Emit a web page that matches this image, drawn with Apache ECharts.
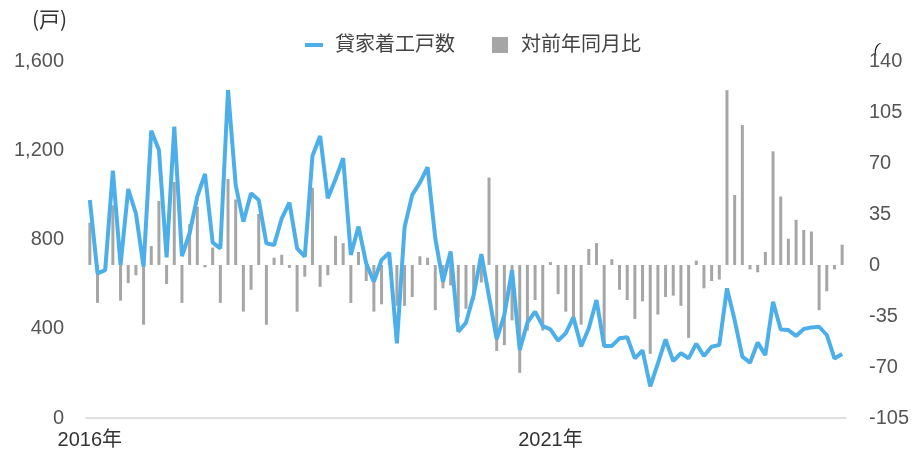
<!DOCTYPE html>
<html><head><meta charset="utf-8">
<script src="https://cdn.jsdelivr.net/npm/echarts@6/dist/echarts.min.js"></script>
<style>html,body{margin:0;padding:0;background:#fff}#c{width:912px;height:452px}</style>
</head><body><div id="c"></div>
<script>
const months = [];
for (let y = 2016; y <= 2024; y++) for (let m = 1; m <= 12; m++) { if (months.length < 99) months.push(y + '年' + m + '月'); }
const starts = [977,648,663,1108,686,1026,917,678,1288,1201,720,1306,726,828,992,1094,786,760,1470,1044,
880,1007,977,783,775,895,965,760,723,1174,1264,985,1070,1164,731,858,693,611,708,741,
335,855,1000,1055,1124,805,611,746,387,427,551,735,544,353,462,663,305,427,477,412,
397,347,380,451,320,402,529,323,323,357,362,267,303,142,245,352,255,291,267,333,
278,320,327,581,439,275,248,338,282,521,397,394,368,399,406,409,372,267,287];
const yoy = [29,-26,-1,41,-24.5,-12.4,-7,-41,13,44,-13,57,-26,28,40,-1.6,12,-26,59,45,
-32,-17,35,-41,5,7,-2,-32,-8,53,-15,-7,20,15,-26,9,-11,-32,-27,6,
-28,-28,-22,6,5,-31,-16,-14,-36,-30,-24,-12,60,-59,-55,-38,-74,-45,-24,-45,
2,-20,-32,-37,-41,11,15,-55,4,-17,-24,-37,-25,-61,-34,-22,-21,-28,-50,3,
-16,-11,-10,120,48,96,-3,-5,9,78,47,18,31,24,23,-31,-18,-3,14];
const leftTicks = {min:0, max:1600, interval:400};
const rightTicks = {min:-105, max:140, interval:35};
const seriesNames = ['貸家着工戸数','対前年同月比'];

const FF = '"Liberation Sans", "Noto Sans CJK JP", sans-serif';
const chart = echarts.init(document.getElementById('c'));
chart.setOption({
  animation:false,
  backgroundColor:'#fff',
  grid:{left:86, right:66, top:61, bottom:34},
  legend:{
    top:30, left:300, itemGap:37, itemWidth:18, itemHeight:16, symbolKeepAspect:true,
    textStyle:{fontFamily:FF, fontSize:20, color:'#444', padding:[0,0,0,7]},
    data:[{name:seriesNames[0], icon:'path://M0,0H18V4H0Z', itemStyle:{color:'#4DAFEA'}},
          {name:seriesNames[1], icon:'path://M0,0H16V16H0Z', itemStyle:{color:'#a6a6a6'}}]
  },
  graphic:[
    {type:'text', left:32, top:9, style:{text:'(戸)', font:'21px "Noto Sans CJK JP"', fill:'#333'}},
    {type:'text', x:877, y:41, rotation:-0.35, style:{text:'(', font:'14px "Liberation Sans"', fill:'#111'}}
  ],
  xAxis:{
    type:'category', data:months, boundaryGap:true,
    axisLine:{lineStyle:{color:'#d6d6d6', width:1.5}},
    axisTick:{show:false},
    axisLabel:{interval:59, fontFamily:FF, fontSize:20, color:'#333', margin:12,
      formatter:v=>v.slice(0,5)}
  },
  yAxis:[
    {type:'value', min:leftTicks.min, max:leftTicks.max, interval:leftTicks.interval,
     splitLine:{show:false}, axisLine:{show:false}, axisTick:{show:false},
     axisLabel:{fontFamily:FF, fontSize:20, color:'#555', margin:22,
       formatter:v=>v.toLocaleString('en-US')}},
    {type:'value', min:rightTicks.min, max:rightTicks.max, interval:rightTicks.interval,
     splitLine:{show:false}, axisLine:{show:false}, axisTick:{show:false},
     axisLabel:{fontFamily:FF, fontSize:20, color:'#555', margin:23}}
  ],
  series:[
    {name:seriesNames[1], type:'bar', yAxisIndex:1, data:yoy, barWidth:3,
     itemStyle:{color:'#a6a6a6'}},
    {name:seriesNames[0], type:'line', yAxisIndex:0, data:starts, showSymbol:false, symbol:'none',
     lineStyle:{color:'#4DAFEA', width:4}, itemStyle:{color:'#4DAFEA'}}
  ]
});
</script></body></html>
